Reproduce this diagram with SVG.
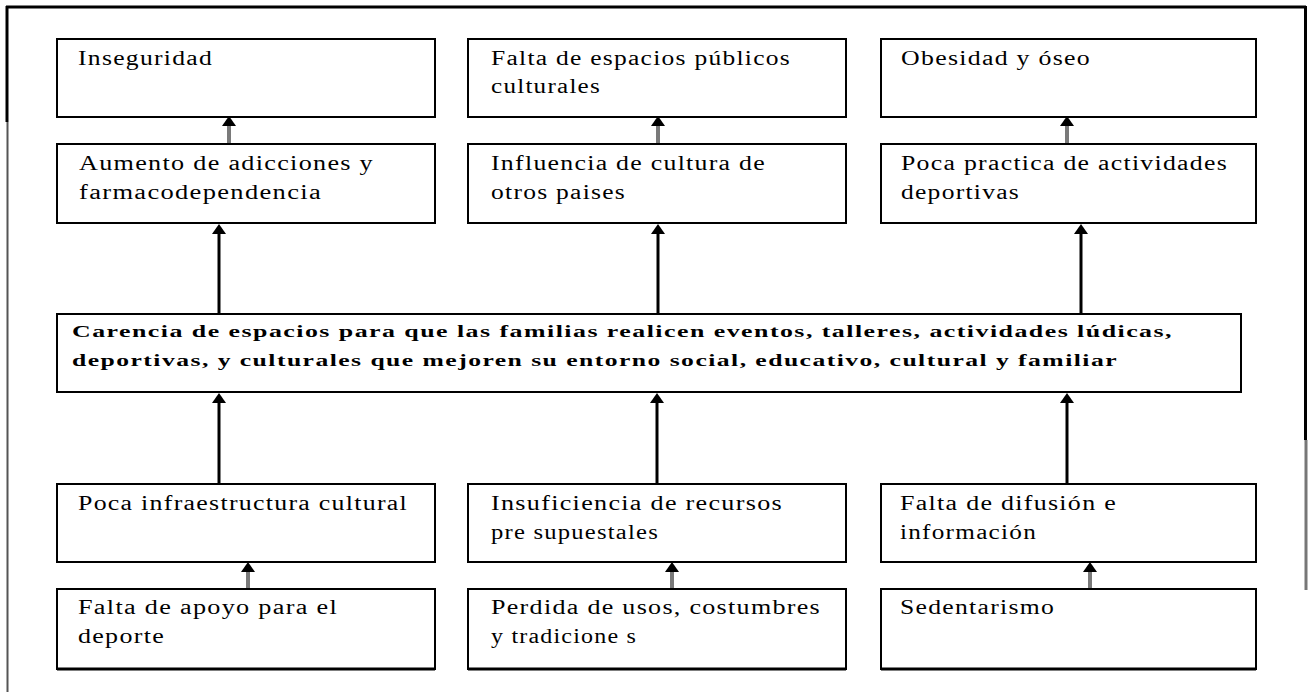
<svg xmlns="http://www.w3.org/2000/svg" width="1309" height="692" viewBox="0 0 1309 692">
<style>
.box{fill:#fff;stroke:#000;stroke-width:2}
.t{font-family:"Liberation Serif","Times New Roman",serif;font-size:20px;letter-spacing:1px;fill:#000}
.b{font-family:"Liberation Serif","Times New Roman",serif;font-size:17.5px;font-weight:bold;letter-spacing:1px;fill:#000}
.gl{stroke:#7a7a7a;stroke-width:4}
.bl{stroke:#000;stroke-width:3}
.ah{fill:#000}
</style>
<rect x="0" y="0" width="1309" height="692" fill="#fff"/>
<g id="frame">
<line x1="6" y1="7" x2="1306" y2="7" stroke="#000" stroke-width="3"/>
<line x1="7" y1="6" x2="7" y2="122" stroke="#000" stroke-width="3"/>
<line x1="7.5" y1="122" x2="7.5" y2="692" stroke="#555" stroke-width="2"/>
<line x1="1305.5" y1="6" x2="1305.5" y2="440" stroke="#000" stroke-width="3"/>
<line x1="1306" y1="440" x2="1306" y2="590" stroke="#777" stroke-width="3"/>
</g>
<g id="connectors">
<line class="gl" x1="229" y1="144" x2="229" y2="124"/><polygon class="ah" points="229,116 222,126 236,126"/>
<line class="gl" x1="658" y1="144" x2="658" y2="124"/><polygon class="ah" points="658,116 651,126 665,126"/>
<line class="gl" x1="1067" y1="144" x2="1067" y2="124"/><polygon class="ah" points="1067,116 1060,126 1074,126"/>
<line class="bl" x1="219" y1="314" x2="219" y2="232"/><polygon class="ah" points="219,224 212,234 226,234"/>
<line class="bl" x1="658" y1="314" x2="658" y2="232"/><polygon class="ah" points="658,224 651,234 665,234"/>
<line class="bl" x1="1081" y1="314" x2="1081" y2="232"/><polygon class="ah" points="1081,224 1074,234 1088,234"/>
<line class="bl" x1="219" y1="484" x2="219" y2="401"/><polygon class="ah" points="219,393 212,403 226,403"/>
<line class="bl" x1="657" y1="484" x2="657" y2="401"/><polygon class="ah" points="657,393 650,403 664,403"/>
<line class="bl" x1="1067" y1="484" x2="1067" y2="401"/><polygon class="ah" points="1067,393 1060,403 1074,403"/>
<line class="gl" x1="248" y1="589" x2="248" y2="570"/><polygon class="ah" points="248,562 241,572 255,572"/>
<line class="gl" x1="672" y1="589" x2="672" y2="570"/><polygon class="ah" points="672,562 665,572 679,572"/>
<line class="gl" x1="1090" y1="589" x2="1090" y2="570"/><polygon class="ah" points="1090,562 1083,572 1097,572"/>
</g>
<g id="n-inseguridad"><rect class="box" x="57" y="39" width="378" height="78"/><text class="t" x="78" y="65" textLength="135" lengthAdjust="spacingAndGlyphs">Inseguridad</text></g>
<g id="n-falta-espacios"><rect class="box" x="468" y="39" width="378" height="78"/><text class="t" x="491" y="65" textLength="300" lengthAdjust="spacingAndGlyphs">Falta de espacios públicos</text><text class="t" x="491" y="93" textLength="110" lengthAdjust="spacingAndGlyphs">culturales</text></g>
<g id="n-obesidad"><rect class="box" x="881" y="39" width="375" height="78"/><text class="t" x="901" y="65" textLength="190" lengthAdjust="spacingAndGlyphs">Obesidad y óseo</text></g>
<g id="n-adicciones"><rect class="box" x="57" y="144" width="378" height="79"/><text class="t" x="79" y="170" textLength="295" lengthAdjust="spacingAndGlyphs">Aumento de adicciones y</text><text class="t" x="79" y="199" textLength="243" lengthAdjust="spacingAndGlyphs">farmacodependencia</text></g>
<g id="n-influencia"><rect class="box" x="468" y="144" width="378" height="79"/><text class="t" x="491" y="170" textLength="275" lengthAdjust="spacingAndGlyphs">Influencia de cultura de</text><text class="t" x="491" y="199" textLength="135" lengthAdjust="spacingAndGlyphs">otros paises</text></g>
<g id="n-poca-practica"><rect class="box" x="881" y="144" width="375" height="79"/><text class="t" x="901" y="170" textLength="327" lengthAdjust="spacingAndGlyphs">Poca practica de actividades</text><text class="t" x="901" y="199" textLength="119" lengthAdjust="spacingAndGlyphs">deportivas</text></g>
<g id="n-carencia"><rect class="box" x="57" y="314" width="1184" height="78" stroke-width="2.5"/><text class="b" x="72" y="337" textLength="1101" lengthAdjust="spacingAndGlyphs">Carencia de espacios para que las familias realicen eventos, talleres, actividades lúdicas,</text><text class="b" x="72" y="366" textLength="1046" lengthAdjust="spacingAndGlyphs">deportivas, y culturales que mejoren su entorno social, educativo, cultural y familiar</text></g>
<g id="n-infraestructura"><rect class="box" x="57" y="484" width="378" height="78"/><text class="t" x="78" y="510" textLength="330" lengthAdjust="spacingAndGlyphs">Poca infraestructura cultural</text></g>
<g id="n-insuficiencia"><rect class="box" x="468" y="484" width="378" height="78"/><text class="t" x="491" y="510" textLength="292" lengthAdjust="spacingAndGlyphs">Insuficiencia de recursos</text><text class="t" x="491" y="539" textLength="168" lengthAdjust="spacingAndGlyphs">pre supuestales</text></g>
<g id="n-difusion"><rect class="box" x="881" y="484" width="375" height="78"/><text class="t" x="900" y="510" textLength="217" lengthAdjust="spacingAndGlyphs">Falta de difusión  e</text><text class="t" x="900" y="539" textLength="137" lengthAdjust="spacingAndGlyphs">información</text></g>
<g id="n-apoyo"><rect class="box" x="57" y="589" width="378" height="80"/><line x1="57" y1="669" x2="435" y2="669" stroke="#000" stroke-width="3"/><text class="t" x="78" y="614" textLength="260" lengthAdjust="spacingAndGlyphs">Falta de apoyo para el</text><text class="t" x="78" y="643" textLength="87" lengthAdjust="spacingAndGlyphs">deporte</text></g>
<g id="n-perdida"><rect class="box" x="468" y="589" width="378" height="80"/><line x1="468" y1="669" x2="846" y2="669" stroke="#000" stroke-width="3"/><text class="t" x="491" y="614" textLength="330" lengthAdjust="spacingAndGlyphs">Perdida de usos, costumbres</text><text class="t" x="491" y="643" textLength="146" lengthAdjust="spacingAndGlyphs">y tradicione s</text></g>
<g id="n-sedentarismo"><rect class="box" x="881" y="589" width="375" height="80"/><line x1="881" y1="669" x2="1256" y2="669" stroke="#000" stroke-width="3"/><text class="t" x="900" y="614" textLength="155" lengthAdjust="spacingAndGlyphs">Sedentarismo</text></g>
</svg>
